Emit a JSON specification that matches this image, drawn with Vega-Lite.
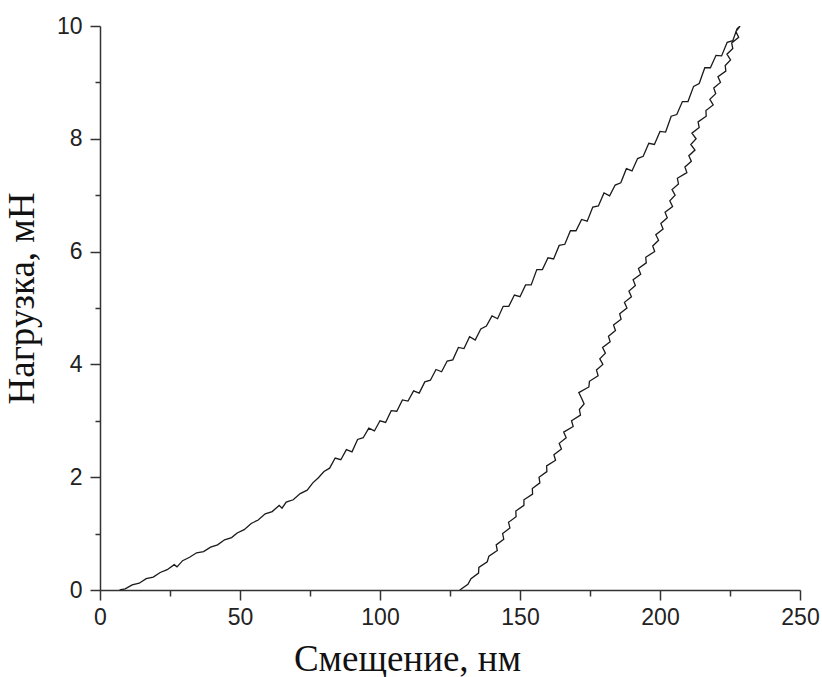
{
  "$schema": "https://vega.github.io/schema/vega-lite/v6.json",
  "width": 700,
  "height": 564,
  "autosize": "none",
  "padding": {"left": 100, "top": 26, "right": 22, "bottom": 87},
  "background": "white",
  "config": {
    "view": {"stroke": null},
    "axis": {
      "grid": false,
      "domainColor": "#333",
      "domainWidth": 1.5,
      "tickColor": "#333",
      "tickWidth": 1.5,
      "labelFont": "Liberation Sans",
      "labelFontSize": 23,
      "labelColor": "#222",
      "labelFlush": false,
      "titleFont": "Liberation Serif",
      "titleFontSize": 37,
      "titleFontWeight": "normal",
      "titleColor": "#111"
    }
  },
  "data": {"values": [
    {"x":7,"y":0},{"x":9,"y":0.02},{"x":11.5,"y":0.09},{"x":14,"y":0.12},{"x":16.5,"y":0.2},{"x":19,"y":0.23},{"x":21.5,"y":0.31},{"x":24,"y":0.36},{"x":26.5,"y":0.45},{"x":27.5,"y":0.41},{"x":29.5,"y":0.52},{"x":32,"y":0.58},{"x":34.5,"y":0.66},{"x":37,"y":0.68},{"x":39.5,"y":0.76},{"x":42,"y":0.8},{"x":44.5,"y":0.89},{"x":47,"y":0.93},{"x":49,"y":1.01},{"x":51.5,"y":1.07},{"x":54,"y":1.18},{"x":56.5,"y":1.24},{"x":59,"y":1.35},{"x":61.5,"y":1.39},{"x":64,"y":1.5},{"x":65,"y":1.45},{"x":66.5,"y":1.56},{"x":69,"y":1.6},{"x":71.5,"y":1.71},{"x":74,"y":1.77},{"x":76,"y":1.9},{"x":78,"y":1.99},{"x":80,"y":2.1},
    {"x":82,"y":2.16},{"x":84,"y":2.34},{"x":86,"y":2.31},{"x":88,"y":2.49},{"x":90,"y":2.45},{"x":92,"y":2.67},{"x":94,"y":2.7},{"x":96,"y":2.87},{"x":98,"y":2.82},{"x":100,"y":3.0},{"x":102,"y":2.97},{"x":104,"y":3.18},{"x":106,"y":3.17},{"x":108,"y":3.37},{"x":110,"y":3.35},{"x":112,"y":3.53},{"x":114,"y":3.49},{"x":116,"y":3.69},{"x":118,"y":3.72},{"x":120,"y":3.91},{"x":122,"y":3.87},{"x":124,"y":4.06},{"x":126,"y":4.08},{"x":128,"y":4.3},{"x":130,"y":4.28},{"x":132,"y":4.49},{"x":134,"y":4.43},{"x":136,"y":4.63},{"x":138,"y":4.68},{"x":140,"y":4.86},{"x":142,"y":4.81},{"x":144,"y":5.03},{"x":146,"y":5.03},{"x":148,"y":5.23},{"x":150,"y":5.2},{"x":152,"y":5.41},{"x":154,"y":5.41},{"x":156,"y":5.68},{"x":158,"y":5.68},{"x":160,"y":5.89},{"x":162,"y":5.87},{"x":164,"y":6.11},{"x":166,"y":6.13},{"x":168,"y":6.37},{"x":170,"y":6.37},{"x":172,"y":6.57},{"x":174,"y":6.54},{"x":176,"y":6.79},{"x":178,"y":6.81},{"x":180,"y":7.04},{"x":182,"y":6.99},{"x":184,"y":7.18},{"x":186,"y":7.22},{"x":188,"y":7.47},{"x":190,"y":7.43},{"x":192,"y":7.65},{"x":194,"y":7.69},{"x":196,"y":7.92},{"x":198,"y":7.9},{"x":200,"y":8.13},{"x":202,"y":8.12},{"x":204,"y":8.4},{"x":206,"y":8.43},{"x":208,"y":8.66},{"x":210,"y":8.66},{"x":212,"y":8.93},{"x":214,"y":8.98},{"x":216,"y":9.26},{"x":218,"y":9.26},{"x":220,"y":9.48},{"x":222,"y":9.47},{"x":224,"y":9.71},{"x":226,"y":9.74},{"x":227.5,"y":9.95},{"x":228.6,"y":10},
    {"x":227.1,"y":9.9},{"x":228.1,"y":9.8},{"x":225.6,"y":9.7},{"x":226.0,"y":9.6},{"x":223.9,"y":9.5},{"x":225.2,"y":9.4},{"x":223.3,"y":9.3},{"x":223.5,"y":9.2},{"x":220.7,"y":9.1},{"x":221.6,"y":9.0},{"x":219.2,"y":8.9},{"x":219.9,"y":8.8},{"x":217.8,"y":8.7},{"x":219.0,"y":8.6},{"x":216.4,"y":8.5},{"x":216.5,"y":8.4},{"x":213.6,"y":8.3},{"x":214.0,"y":8.2},{"x":211.4,"y":8.1},{"x":212.9,"y":8.0},{"x":211.0,"y":7.9},{"x":212.5,"y":7.8},{"x":210.3,"y":7.7},{"x":211.2,"y":7.6},{"x":208.9,"y":7.5},{"x":209.6,"y":7.4},{"x":206.2,"y":7.3},{"x":206.6,"y":7.2},{"x":204.3,"y":7.1},{"x":205.4,"y":7.0},{"x":203.5,"y":6.9},{"x":204.5,"y":6.8},{"x":201.8,"y":6.7},{"x":202.6,"y":6.6},{"x":200.3,"y":6.5},{"x":201.1,"y":6.4},{"x":198.5,"y":6.3},{"x":199.5,"y":6.2},{"x":197.4,"y":6.1},{"x":198.1,"y":6.0},{"x":194.9,"y":5.9},{"x":195.1,"y":5.8},{"x":192.3,"y":5.7},{"x":193.1,"y":5.6},{"x":190.4,"y":5.5},{"x":191.2,"y":5.4},{"x":188.9,"y":5.3},{"x":189.8,"y":5.2},{"x":187.3,"y":5.1},{"x":188.2,"y":5.0},{"x":185.6,"y":4.9},{"x":186.1,"y":4.8},{"x":183.4,"y":4.7},{"x":184.1,"y":4.6},{"x":181.6,"y":4.5},{"x":182.2,"y":4.4},{"x":179.5,"y":4.3},{"x":180.5,"y":4.2},{"x":178.5,"y":4.1},{"x":179.6,"y":4.0},{"x":177.3,"y":3.9},{"x":177.9,"y":3.8},{"x":174.8,"y":3.7},{"x":174.6,"y":3.6},{"x":171.0,"y":3.5},{"x":172.0,"y":3.4},{"x":172.9,"y":3.3},{"x":171.2,"y":3.2},{"x":171.6,"y":3.1},{"x":168.4,"y":3.0},{"x":169.0,"y":2.9},{"x":165.6,"y":2.8},{"x":166.5,"y":2.7},{"x":164.0,"y":2.6},{"x":164.8,"y":2.5},{"x":162.1,"y":2.4},{"x":162.7,"y":2.3},{"x":159.5,"y":2.2},{"x":159.6,"y":2.1},{"x":156.8,"y":2.0},{"x":157.1,"y":1.9},{"x":154.4,"y":1.8},{"x":154.5,"y":1.7},{"x":151.4,"y":1.6},{"x":151.4,"y":1.5},{"x":148.5,"y":1.4},{"x":148.6,"y":1.3},{"x":145.9,"y":1.2},{"x":146.4,"y":1.1},{"x":143.8,"y":1.0},{"x":144.2,"y":0.9},{"x":141.5,"y":0.8},{"x":141.9,"y":0.7},{"x":138.9,"y":0.6},{"x":138.3,"y":0.5},{"x":135.3,"y":0.4},{"x":135.2,"y":0.3},{"x":132.5,"y":0.2},{"x":131.4,"y":0.1},{"x":128.5,"y":0}
  ]},
  "layer": [
    {
      "mark": {"type": "line", "color": "#1a1a1a", "strokeWidth": 1.3, "clip": true},
      "encoding": {
        "x": {"field": "x", "type": "quantitative", "scale": {"domain": [0, 250], "nice": false, "zero": false},
              "axis": {"title": "Смещение, нм", "values": [0, 50, 100, 150, 200, 250], "tickSize": 10, "labelPadding": 6, "titlePadding": 12, "titleX": 307, "titleAnchor": "start", "titleAlign": "center", "orient": "bottom"}},
        "y": {"field": "y", "type": "quantitative", "scale": {"domain": [0, 10], "nice": false, "zero": false},
              "axis": {"title": "Нагрузка, мН", "values": [0, 2, 4, 6, 8, 10], "tickSize": 10, "labelPadding": 8, "titlePadding": 15, "titleY": 272, "titleAlign": "center", "orient": "left"}},
        "order": {"value": null}
      }
    },
    {
      "mark": {"type": "line", "opacity": 0},
      "encoding": {
        "x": {"field": "x", "type": "quantitative",
              "axis": {"title": null, "values": [25, 75, 125, 175, 225], "labels": false, "domain": false, "tickSize": 6, "orient": "bottom"}},
        "y": {"field": "y", "type": "quantitative",
              "axis": {"title": null, "values": [1, 3, 5, 7, 9], "labels": false, "domain": false, "tickSize": 5, "orient": "left"}},
        "order": {"value": null}
      }
    }
  ],
  "resolve": {"axis": {"x": "independent", "y": "independent"}}
}
